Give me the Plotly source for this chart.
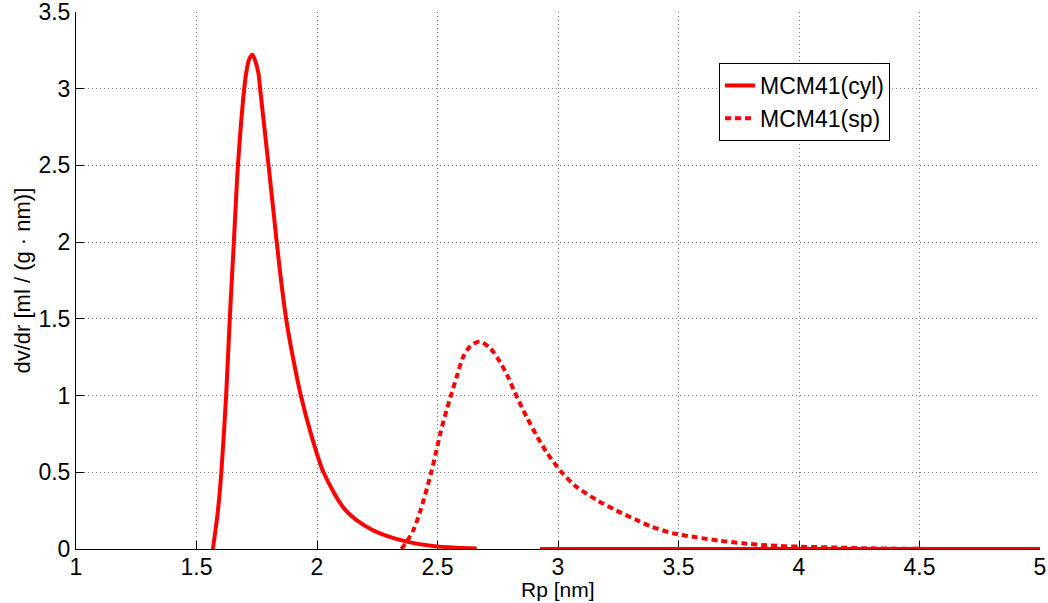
import plotly.graph_objects as go

# Data
rp_cyl = [1.568, 1.589, 1.603, 1.623, 1.638, 1.655, 1.672, 1.698, 1.706, 1.718,
          1.732, 1.746, 1.757, 1.764, 1.799, 1.833, 1.851, 1.872, 1.900, 1.933, 1.975,
          2.027, 2.120, 2.230, 2.372, 2.48, 2.58, 2.663, None, 2.925, 5.0]
dv_cyl = [0.0, 0.25, 0.5, 1.0, 1.5, 2.0, 2.5, 3.0, 3.10, 3.19,
          3.222, 3.17, 3.10, 3.0, 2.5, 2.0, 1.75, 1.5, 1.25, 1.0, 0.75,
          0.5, 0.25, 0.124, 0.048, 0.02, 0.008, 0.003, None, 0.0, 0.0]

rp_sp = [2.35, 2.372, 2.400, 2.430, 2.474, 2.493, 2.512, 2.538, 2.556, 2.580, 2.607,
         2.635, 2.676, 2.718, 2.759, 2.793, 2.821, 2.870, 2.911, 2.953, 3.015, 3.077,
         3.160, 3.243, 3.326, 3.381, 3.478, 3.575, 3.671, 3.768, 3.865, 4.003, 4.141,
         4.28, 4.5, 5.0]
dv_sp = [0.0, 0.047, 0.124, 0.254, 0.5, 0.624, 0.755, 0.907, 1.0, 1.124, 1.254,
         1.32, 1.352, 1.31, 1.22, 1.12, 1.02, 0.86, 0.74, 0.63, 0.5, 0.405,
         0.32, 0.25, 0.189, 0.15, 0.102, 0.076, 0.054, 0.037, 0.024, 0.015, 0.01,
         0.005, 0.001, 0.0]

series_names = ["MCM41(cyl)", "MCM41(sp)"]
x_title = "Rp [nm]"
y_title = "dv/dr [ml / (g · nm)]"

FONT = "Liberation Sans, Arial, Helvetica, sans-serif"

fig = go.Figure()
fig.add_trace(go.Scatter(x=rp_cyl, y=dv_cyl, mode="lines", name=series_names[0],
                         line=dict(color="#ff0000", width=4, shape="spline", smoothing=0.8),
                         connectgaps=False))
fig.add_trace(go.Scatter(x=rp_sp, y=dv_sp, mode="lines", name=series_names[1],
                         line=dict(color="#ff0000", width=4, dash="6px,4px", shape="spline", smoothing=0.8)))

axis_common = dict(
    showline=True, linecolor="#000000", linewidth=1, mirror=False,
    ticks="inside", ticklen=8, tickwidth=1, tickcolor="#000000",
    showgrid=True, gridcolor="#808080", gridwidth=1, griddash="1px,3px",
    zeroline=False, layer="below traces", automargin=False,
    ticklabeloverflow="allow",
    tickfont=dict(family=FONT, size=23, color="#000000"),
)

fig.update_layout(
    width=1048, height=603,
    margin=dict(l=76, r=8, t=12, b=54),
    paper_bgcolor="white", plot_bgcolor="white",
    font=dict(family=FONT, size=21, color="#000000"),
    xaxis=dict(range=[1, 5], dtick=0.5, tick0=1, **axis_common),
    yaxis=dict(range=[0, 3.5], dtick=0.5, tick0=0, **axis_common),
    legend=dict(x=0.667, y=0.905, xanchor="left", yanchor="top",
                bgcolor="white", bordercolor="#000000", borderwidth=1,
                font=dict(family=FONT, size=23, color="#000000"),
                tracegroupgap=0, itemwidth=30),
    showlegend=True,
    annotations=[
        dict(text=x_title, xref="paper", yref="paper", x=0.5, y=-0.075,
             xanchor="center", yanchor="middle", showarrow=False,
             font=dict(family=FONT, size=21, color="#000000")),
        dict(text=y_title, xref="paper", yref="paper", x=-0.056, y=0.5,
             xanchor="center", yanchor="middle", showarrow=False, textangle=-90,
             font=dict(family=FONT, size=22, color="#000000")),
    ],
)
fig.update_xaxes(ticklabelstandoff=-3)

fig.write_html("out.html", config={"displayModeBar": False},
               post_script="document.body.style.margin='0';")
